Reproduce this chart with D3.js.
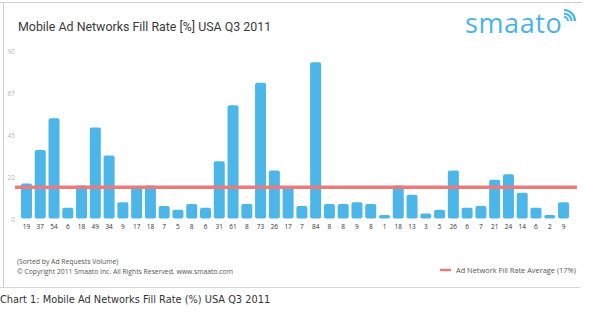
<!DOCTYPE html>
<html>
<head>
<meta charset="utf-8">
<script src="https://cdn.jsdelivr.net/npm/d3@7"></script>
<style>
  html, body { margin: 0; padding: 0; background: #fff; }
  svg { display: block; }
</style>
</head>
<body>
<svg id="chart" width="609" height="322"></svg>
<script>
// Fill rate (%) per ad network, sorted by ad request volume
const networks = d3.range(1, 41).map(i => "N" + i);
const fillRates = [19, 37, 54, 6, 18, 49, 34, 9, 17, 18, 7, 5, 8, 6, 31, 61, 8, 73, 26, 17,
                   7, 84, 8, 8, 9, 8, 1, 18, 13, 3, 5, 26, 6, 7, 21, 24, 14, 6, 2, 9];
const averageRate = 17;
const yTicks = [0, 22.5, 45, 67.5, 90];
const yTickLabels = ["0", "22", "45", "67", "90"];

const barColor = "#4db6e9";
const avgColor = "#ea7b7c";

const svg = d3.select("#chart");

// Frame around the chart panel
svg.append("line").attr("x1", 0).attr("x2", 582).attr("y1", 2.5).attr("y2", 2.5)
  .attr("stroke", "#cfcfcf").attr("stroke-width", 1);
svg.append("line").attr("x1", 0).attr("x2", 580).attr("y1", 287.5).attr("y2", 287.5)
  .attr("stroke", "#d6d6d6").attr("stroke-width", 1);
svg.append("line").attr("x1", 3.5).attr("x2", 3.5).attr("y1", 2).attr("y2", 288)
  .attr("stroke", "#cfcfcf").attr("stroke-width", 1);

// Title
svg.append("text").attr("x", 18).attr("y", 31)
  .attr("font-family", "Roboto, 'Open Sans', sans-serif")
  .attr("font-size", 12.4).attr("fill", "#3a3a3a")
  .text("Mobile Ad Networks Fill Rate [%] USA Q3 2011");

// Brand mark
const logo = svg.append("g");
logo.append("text").attr("x", 465).attr("y", 33)
  .attr("font-family", "'Open Sans', Lato, sans-serif")
  .attr("font-size", 27).attr("fill", "#4ab3e6").attr("letter-spacing", 0.6)
  .text("smaato");
[4, 7.5, 11].forEach(r => {
  logo.append("path")
    .attr("d", d3.arc()({ innerRadius: r - 1.1, outerRadius: r + 1.1, startAngle: 0, endAngle: Math.PI / 2 }))
    .attr("transform", "translate(564,21)")
    .attr("fill", "#4ab3e6");
});

// Scales
const x = d3.scaleBand().domain(networks).range([19.6, 570.4])
  .paddingInner(0.2).paddingOuter(0.1);
const y = d3.scaleLinear().domain([0, 90]).range([219, 51]);

// Y tick labels
const yAxis = d3.axisLeft(y).tickValues(yTicks)
  .tickFormat((d, i) => yTickLabels[i]).tickSize(0).tickPadding(0);
const yg = svg.append("g").attr("transform", "translate(15,0)").call(yAxis);
yg.select(".domain").remove();
yg.selectAll("text").attr("font-family", "'Open Sans', sans-serif")
  .attr("font-size", 6.5).attr("fill", "#b5b5b5");

// Bars
const barBottom = 218.5;
svg.append("g").selectAll("path").data(fillRates).join("path")
  .attr("fill", barColor)
  .attr("d", (d, i) => {
    const x0 = x(networks[i]), w = x.bandwidth();
    const top = Math.min(y(d), barBottom - 3.5);
    const r = Math.min(2, (barBottom - top) / 2);
    return `M${x0},${barBottom - r}` +
      `L${x0},${top + r}Q${x0},${top} ${x0 + r},${top}` +
      `L${x0 + w - r},${top}Q${x0 + w},${top} ${x0 + w},${top + r}` +
      `L${x0 + w},${barBottom - r}Q${x0 + w},${barBottom} ${x0 + w - r},${barBottom}` +
      `L${x0 + r},${barBottom}Q${x0},${barBottom} ${x0},${barBottom - r}Z`;
  });

// X labels (fill rate under each bar)
const xAxis = d3.axisBottom(x).tickSize(0).tickPadding(0)
  .tickFormat((d, i) => fillRates[i]);
const xg = svg.append("g").attr("transform", "translate(0,224)").call(xAxis);
xg.select(".domain").remove();
xg.selectAll("text").attr("font-family", "'Open Sans', sans-serif")
  .attr("font-size", 6.5).attr("fill", "#333");

// Average line
svg.append("line").attr("x1", 15).attr("x2", 577)
  .attr("y1", y(averageRate)).attr("y2", y(averageRate))
  .attr("stroke", avgColor).attr("stroke-width", 3.5);

// Footnotes
const note = svg.append("g").attr("font-family", "'Open Sans', sans-serif")
  .attr("font-size", 6.8).attr("fill", "#555");
note.append("text").attr("x", 17).attr("y", 264).text("(Sorted by Ad Requests Volume)");
note.append("text").attr("x", 17).attr("y", 273.5)
  .text("\u00a9 Copyright 2011 Smaato Inc. All Rights Reserved. www.smaato.com");

// Legend
svg.append("line").attr("x1", 440).attr("x2", 451).attr("y1", 270).attr("y2", 270)
  .attr("stroke", avgColor).attr("stroke-width", 2.5);
note.append("text").attr("x", 456).attr("y", 272.5)
  .attr("font-size", 7.4)
  .text("Ad Network Fill Rate Average (" + averageRate + "%)");

// Caption
svg.append("text").attr("x", 0).attr("y", 303)
  .attr("font-family", "'DejaVu Sans', Verdana, sans-serif")
  .attr("font-size", 9.8).attr("fill", "#333")
  .text("Chart 1: Mobile Ad Networks Fill Rate (%) USA Q3 2011");
</script>
</body>
</html>
